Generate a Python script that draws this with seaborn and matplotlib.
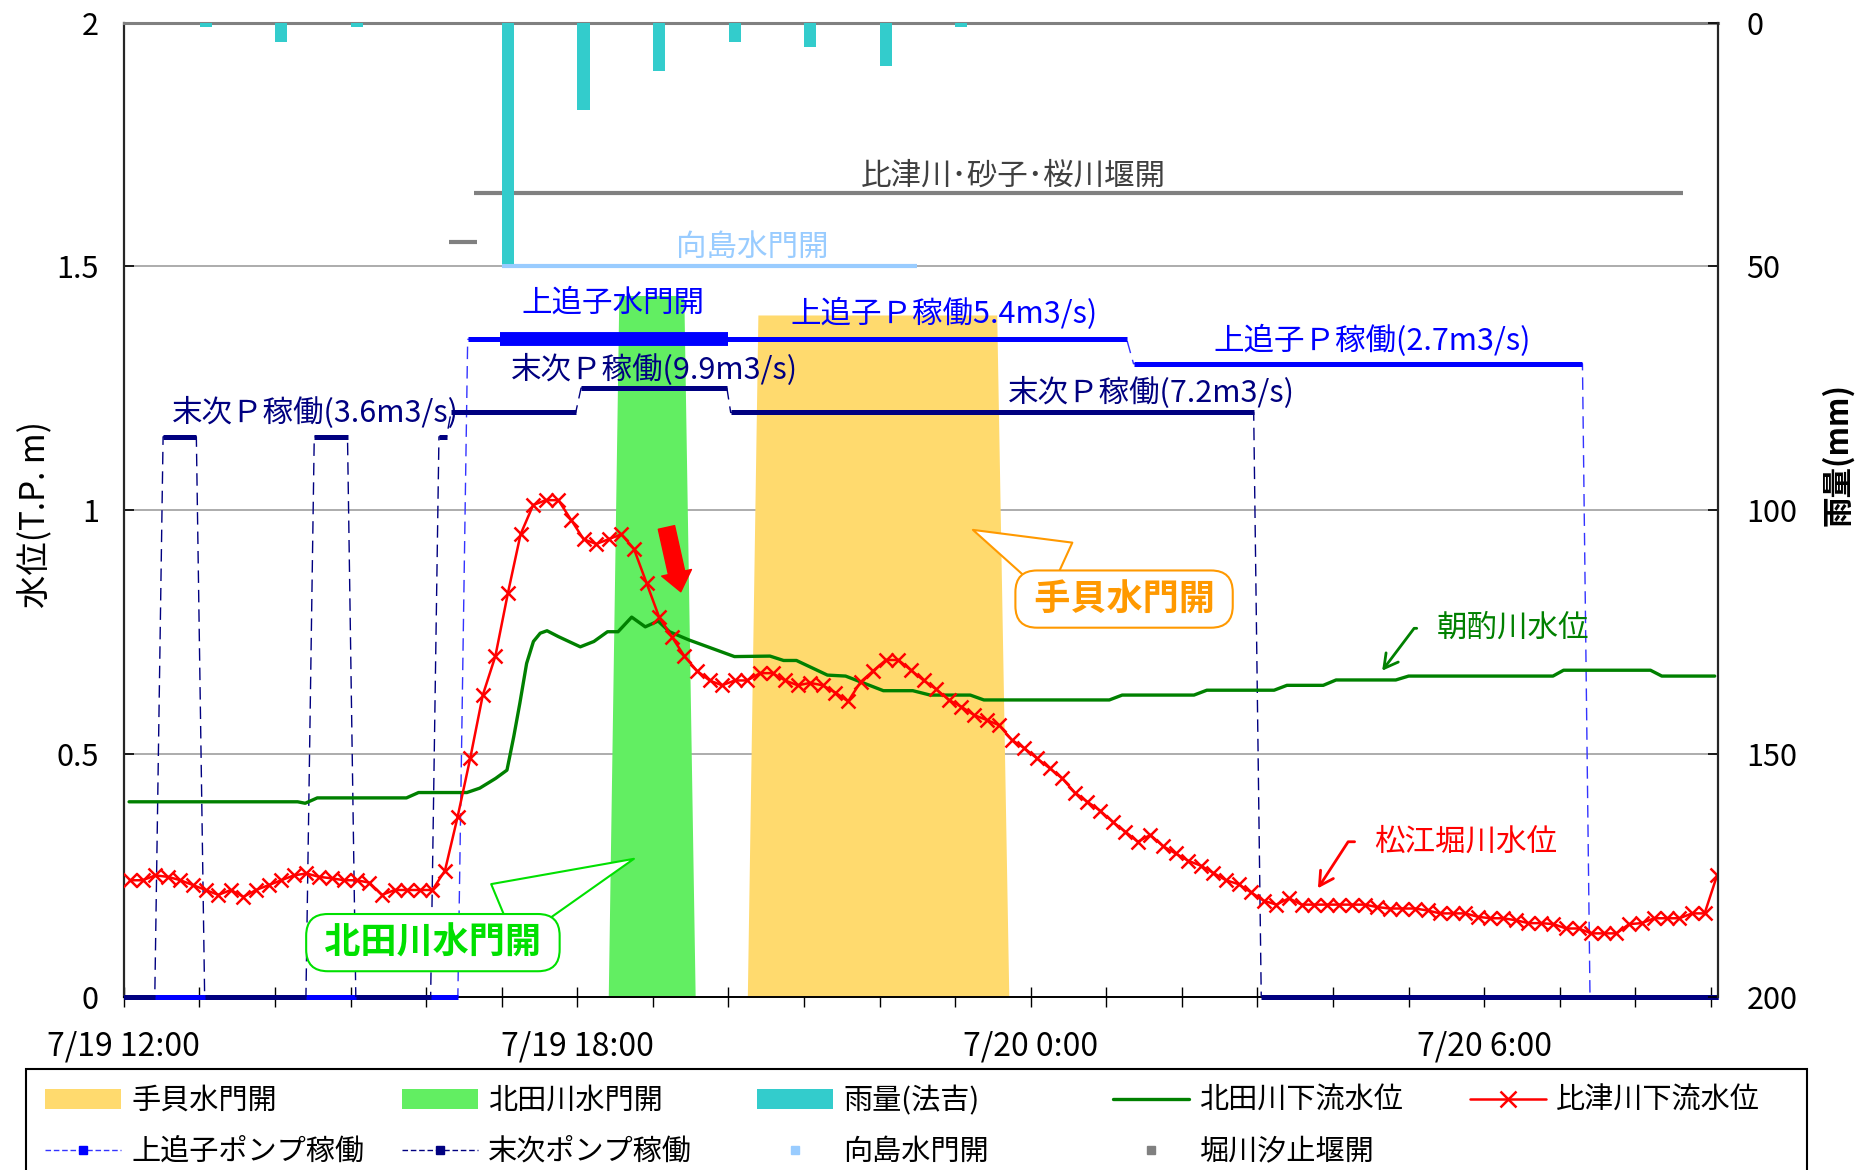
import numpy as np
import matplotlib
matplotlib.use("Agg")
import matplotlib.pyplot as plt
import seaborn as sns
from matplotlib.lines import Line2D
from matplotlib.patches import Patch, Rectangle
from matplotlib.collections import LineCollection

sns.set_theme(style="white")
plt.rcParams["font.family"] = ["Noto Sans CJK JP", "DejaVu Sans"]
plt.rcParams["axes.unicode_minus"] = False

# ---------------- data (time in hours after 7/19 12:00) ----------------
x_tick_hours = [0, 6, 12, 18]
x_tick_labels = ["7/19 12:00", "7/19 18:00", "7/20 0:00", "7/20 6:00"]
y_ticks_left = [0, 0.5, 1, 1.5, 2]
y_tick_labels_left = ["0", "0.5", "1", "1.5", "2"]
y_ticks_right = [0, 50, 100, 150, 200]

# hourly rainfall (法吉), mm
rain_t = [1.083, 2.083, 3.083, 5.083, 6.083, 7.083, 8.083, 9.083, 10.083, 11.083]
rain_mm = [1, 4, 1, 49.5, 18, 10, 4, 5, 9, 1]

# 比津川下流水位 (松江堀川水位), 10-minute data from 12:05
hizu_first_h = 1 / 12
hizu_step_h = 1 / 6
hizu_level = [
    0.24, 0.24, 0.25, 0.247, 0.24, 0.23, 0.22, 0.21, 0.22, 0.206,
    0.22, 0.23, 0.24, 0.25, 0.254, 0.247, 0.244, 0.24, 0.24, 0.235,
    0.21, 0.22, 0.22, 0.22, 0.22, 0.26, 0.37, 0.49, 0.62, 0.70,
    0.83, 0.95, 1.01, 1.02, 1.02, 0.98, 0.94, 0.93, 0.94, 0.95,
    0.92, 0.85, 0.78, 0.74, 0.70, 0.67, 0.65, 0.64, 0.65, 0.65,
    0.665, 0.665, 0.65, 0.64, 0.645, 0.64, 0.625, 0.607, 0.647, 0.67,
    0.692, 0.692, 0.671, 0.65, 0.632, 0.61, 0.596, 0.579, 0.569, 0.558,
    0.528, 0.511, 0.49, 0.47, 0.449, 0.42, 0.401, 0.383, 0.36, 0.34,
    0.319, 0.333, 0.31, 0.295, 0.28, 0.27, 0.255, 0.24, 0.232, 0.215,
    0.198, 0.19, 0.203, 0.19, 0.19, 0.19, 0.19, 0.19, 0.19, 0.185,
    0.182, 0.182, 0.182, 0.178, 0.172, 0.172, 0.172, 0.165, 0.162, 0.162,
    0.158, 0.152, 0.152, 0.15, 0.141, 0.141, 0.131, 0.131, 0.131, 0.15,
    0.152, 0.162, 0.162, 0.162, 0.172, 0.172, 0.251,
]

# 北田川下流水位 (朝酌川水位)
kitada_t = [0.07, 2.3, 2.4, 2.56, 3.74, 3.9, 4.54, 4.71, 4.92, 5.07, 5.16, 5.24,
            5.33, 5.42, 5.51, 5.6, 5.75, 6.04, 6.22, 6.4, 6.54, 6.72, 6.9, 7.07,
            7.22, 7.48, 8.08, 8.55, 8.73, 8.9, 9.31, 9.55, 10.05, 10.44, 10.67,
            11.2, 11.38, 13.04, 13.21, 14.16, 14.33, 15.22, 15.39, 15.87, 16.04,
            16.83, 17.0, 18.91, 19.05, 20.2, 20.35, 21.05]
kitada_level = [0.401, 0.401, 0.398, 0.409, 0.409, 0.42, 0.42, 0.429, 0.449, 0.466,
                0.535, 0.603, 0.685, 0.73, 0.747, 0.752, 0.74, 0.719, 0.73, 0.75,
                0.75, 0.78, 0.76, 0.772, 0.75, 0.733, 0.699, 0.70, 0.691, 0.691,
                0.661, 0.659, 0.629, 0.629, 0.62, 0.62, 0.61, 0.61, 0.62, 0.62,
                0.63, 0.63, 0.64, 0.64, 0.651, 0.651, 0.659, 0.659, 0.671, 0.671,
                0.659, 0.659]

# gate-open bands
tegai_t = [8.25, 8.39, 11.55, 11.71]
tegai_v = [0, 1.40, 1.40, 0]
kitagate_t = [6.41, 6.55, 7.41, 7.56]
kitagate_v = [0, 1.44, 1.44, 0]

# pump operation series
kamioiko_t = [0, 4.42, 4.55, 13.27, 13.36, 19.30, 19.40, 21.1]
kamioiko_v = [0, 0, 1.35, 1.35, 1.30, 1.30, 0, 0]
suetsugu_t = [0, 0.41, 0.52, 0.96, 1.07, 2.41, 2.52, 2.96, 3.07, 4.06, 4.17,
              4.27, 4.33, 5.98, 6.05, 7.98, 8.03, 14.95, 15.05, 21.1]
suetsugu_v = [0, 0, 1.15, 1.15, 0, 0, 1.15, 1.15, 0, 0, 1.15,
              1.15, 1.2, 1.2, 1.25, 1.25, 1.2, 1.2, 0, 0]
kamioiko_gate_start = [4.98]
kamioiko_gate_end = [8.0]
kamioiko_gate_level = [1.35]

# 堀川汐止堰開 / 向島水門開
horikawa_start = [4.30, 4.63]
horikawa_end = [4.68, 20.63]
horikawa_level = [1.55, 1.65]
mukoujima_start = [5.0]
mukoujima_end = [10.5]
mukoujima_level = [1.5]

# ---------------- colours ----------------
C_YELLOW = "#FFDA6E"
C_GREENBAND = "#62EE62"
C_RAIN = "#33CCCC"
C_KITA = "#008000"
C_HIZU = "#FF0000"
C_KAMI = "#0000FF"
C_KAMI_DASH = "#3333FF"
C_SUE = "#000080"
C_MUKO = "#99CCFF"
C_HORI = "#808080"
C_ORANGE = "#FF9900"
C_LIME = "#00E000"

# ---------------- figure ----------------
fig = plt.figure(figsize=(18.66, 11.7), dpi=100)
ax = fig.add_axes([0.06634, 0.14769, 0.85461, 0.83299])
ax.set_facecolor("white")

ax.fill_between(tegai_t, tegai_v, color=C_YELLOW, lw=0, zorder=1)
ax.fill_between(kitagate_t, kitagate_v, color=C_GREENBAND, lw=0, zorder=1)

ax.set_xlim(0, 21.1)
ax.set_ylim(0, 2)
ax.set_yticks(y_ticks_left)
ax.set_yticklabels(y_tick_labels_left)
ax.yaxis.grid(True, color="#A6A6A6", lw=1.3, zorder=0)
ax.xaxis.grid(False)
ax.set_axisbelow(True)

hour_ticks = np.arange(0, 22, 1)
ax.set_xticks(hour_ticks)
lab_map = dict(zip(x_tick_hours, x_tick_labels))
ax.set_xticklabels([lab_map.get(int(h), "") for h in hour_ticks])

# lines
ax.hlines(horikawa_level, horikawa_start, horikawa_end, color=C_HORI, lw=3, zorder=3)
ax.hlines(mukoujima_level, mukoujima_start, mukoujima_end, color=C_MUKO, lw=3, zorder=3)


def flat_segments(t, v):
    segs = []
    for i in range(len(t) - 1):
        if v[i] == v[i + 1]:
            segs.append([(t[i], v[i]), (t[i + 1], v[i + 1])])
    return segs


ax.plot(kamioiko_t, kamioiko_v, color=C_KAMI_DASH, lw=1.0, ls=(0, (9, 5)), zorder=4)
ax.add_collection(LineCollection(flat_segments(kamioiko_t, kamioiko_v), colors=C_KAMI,
                                 linewidths=3.6, zorder=4, clip_on=False, capstyle="butt"))
ax.hlines(kamioiko_gate_level, kamioiko_gate_start, kamioiko_gate_end, color=C_KAMI, lw=10, zorder=4)

ax.plot(suetsugu_t, suetsugu_v, color=C_SUE, lw=1.0, ls=(0, (9, 5)), zorder=4.5)
ax.add_collection(LineCollection(flat_segments(suetsugu_t, suetsugu_v), colors=C_SUE,
                                 linewidths=3.6, zorder=4.5, clip_on=False, capstyle="butt"))

hizu_t = hizu_first_h + hizu_step_h * np.arange(len(hizu_level))
sns.lineplot(x=kitada_t, y=kitada_level, ax=ax, color=C_KITA, lw=2.4, zorder=5)
sns.lineplot(x=hizu_t, y=hizu_level, ax=ax, color=C_HIZU, lw=1.8, marker="x",
             markersize=10, markeredgewidth=1.8, markeredgecolor=C_HIZU, zorder=6)
ax.set_xlim(0, 21.1)
ax.set_ylim(0, 2)

# rain on secondary axis
ax2 = ax.twinx()
ax2.bar(rain_t, rain_mm, width=0.16, color=C_RAIN, lw=0, zorder=2)
ax2.set_ylim(200, 0)
ax2.set_yticks(y_ticks_right)
ax2.set_yticklabels([str(v) for v in y_ticks_right])

# spines & ticks
for s in ["top", "bottom", "left", "right"]:
    ax2.spines[s].set_visible(False)
ax2.spines["right"].set_visible(True)
ax2.spines["right"].set_color("#262626")
ax2.spines["right"].set_linewidth(1.6)
ax.spines["right"].set_visible(False)
ax.spines["top"].set_color("#808080")
ax.spines["top"].set_linewidth(2.2)
ax.spines["left"].set_color("#262626")
ax.spines["left"].set_linewidth(1.6)
ax.spines["bottom"].set_color("#000000")
ax.spines["bottom"].set_linewidth(1.4)

ax.tick_params(axis="x", bottom=True, direction="inout", length=14, width=1.0,
               color="black", labelcolor="black", labelsize=23, pad=17)
ax.tick_params(axis="y", left=True, direction="in", length=7, width=1.2,
               color="black", labelcolor="black", labelsize=22, pad=18)
ax2.tick_params(axis="y", right=True, direction="in", length=7, width=1.2,
                color="black", labelcolor="black", labelsize=22, pad=20)

ax.set_ylabel("水位(T.P. m)", fontsize=24, color="black")
ax.yaxis.set_label_coords(-0.044, 0.495)
ax2.set_ylabel("雨量(mm)", fontsize=22, color="black", fontweight="bold")
ax2.yaxis.set_label_coords(1.0645, 0.557)

# ---------------- text labels ----------------
tkw = dict(ha="center", va="center", fontsize=22, zorder=9)
ax.text(11.77, 1.685, "比津川･砂子･桜川堰開", color="#404040", **tkw)
ax.text(8.31, 1.539, "向島水門開", color=C_MUKO, **tkw)
ax.text(6.47, 1.425, "上追子水門開", color=C_KAMI, **tkw)
ax.text(10.85, 1.402, "上追子Ｐ稼働5.4m3/s)", color=C_KAMI, **tkw)
ax.text(16.52, 1.347, "上追子Ｐ稼働(2.7m3/s)", color=C_KAMI, **tkw)
ax.text(7.02, 1.287, "末次Ｐ稼働(9.9m3/s)", color=C_SUE, **tkw)
ax.text(13.60, 1.239, "末次Ｐ稼働(7.2m3/s)", color=C_SUE, **tkw)
ax.text(2.53, 1.198, "末次Ｐ稼働(3.6m3/s)", color=C_SUE, **tkw)

# callouts
ax.annotate(" 北田川水門開 ", xy=(6.75, 0.284), xytext=(4.09, 0.112),
            ha="center", va="center", fontsize=26, fontweight="bold", color=C_LIME,
            bbox=dict(boxstyle="round,pad=0.28,rounding_size=0.6", fc="white", ec=C_LIME, lw=1.5),
            arrowprops=dict(arrowstyle="wedge,tail_width=1.75,shrink_factor=0.5",
                            fc="white", ec=C_LIME, lw=1.5, shrinkA=0, shrinkB=0),
            zorder=8)
ax.annotate(" 手貝水門開 ", xy=(11.235, 0.959), xytext=(13.235, 0.817),
            ha="center", va="center", fontsize=26, fontweight="bold", color=C_ORANGE,
            bbox=dict(boxstyle="round,pad=0.28,rounding_size=0.6", fc="white", ec=C_ORANGE, lw=1.5),
            arrowprops=dict(arrowstyle="wedge,tail_width=1.65,shrink_factor=0.5",
                            fc="white", ec=C_ORANGE, lw=1.5, shrinkA=0, shrinkB=0),
            zorder=8)

ax.annotate("朝酌川水位", xy=(16.65, 0.670), xytext=(18.38, 0.757),
            ha="center", va="center", fontsize=22, color=C_KITA,
            arrowprops=dict(arrowstyle="->,head_length=0.45,head_width=0.25",
                            connectionstyle="angle,angleA=0,angleB=53,rad=0",
                            relpos=(0, 0.5), shrinkA=12, shrinkB=0, color=C_KITA, lw=2),
            zorder=8)
ax.annotate("松江堀川水位", xy=(15.80, 0.2235), xytext=(17.76, 0.319),
            ha="center", va="center", fontsize=22, color=C_HIZU,
            arrowprops=dict(arrowstyle="->,head_length=0.45,head_width=0.25",
                            connectionstyle="angle,angleA=0,angleB=57,rad=0",
                            relpos=(0, 0.5), shrinkA=12, shrinkB=0, color=C_HIZU, lw=2),
            zorder=8)

ax.annotate("", xy=(7.37, 0.832), xytext=(7.18, 0.964),
            arrowprops=dict(arrowstyle="simple,head_length=0.7,head_width=1.1,tail_width=0.6",
                            fc=C_HIZU, ec=C_HIZU, mutation_scale=20, shrinkA=0, shrinkB=0),
            zorder=7)

# ---------------- legend ----------------
h_tegai = Patch(facecolor=C_YELLOW, edgecolor="none")
h_kitagate = Patch(facecolor=C_GREENBAND, edgecolor="none")
h_rain = Patch(facecolor=C_RAIN, edgecolor="none")
h_kita = Line2D([], [], color=C_KITA, lw=2.4)
h_hizu = Line2D([], [], color=C_HIZU, lw=1.8, marker="x", ms=12, mew=1.8)
h_kami = Line2D([], [], color=C_KAMI_DASH, lw=1.0, ls=(0, (4, 2)), marker="s", ms=6, mfc=C_KAMI, mec=C_KAMI)
h_sue = Line2D([], [], color=C_SUE, lw=1.0, ls=(0, (4, 2)), marker="s", ms=6, mfc=C_SUE, mec=C_SUE)
h_muko = Line2D([], [], ls="none", marker="s", ms=6, color=C_MUKO)
h_hori = Line2D([], [], ls="none", marker="s", ms=6, color=C_HORI)

columns = [
    ([h_tegai, h_kami], ["手貝水門開", "上追子ポンプ稼働"], 45),
    ([h_kitagate, h_sue], ["北田川水門開", "末次ポンプ稼働"], 402),
    ([h_rain, h_muko], ["雨量(法吉)", "向島水門開"], 757),
    ([h_kita, h_hori], ["北田川下流水位", "堀川汐止堰開"], 1113),
    ([h_hizu], ["比津川下流水位"], 1470),
]
for handles, labels, xpx in columns:
    leg = fig.legend(handles=handles, labels=labels, loc="upper left",
                     bbox_to_anchor=(xpx / 1866, 1 - 1086 / 1170),
                     bbox_transform=fig.transFigure, frameon=False, fontsize=21,
                     handlelength=2.6, handletextpad=0.35, labelspacing=0.72,
                     borderpad=0, borderaxespad=0)
    for txt in leg.get_texts():
        txt.set_color("black")

fig.patches.append(Rectangle((26 / 1866, -0.05), (1807 - 26) / 1866, 0.05 + (1170 - 1069) / 1170,
                             transform=fig.transFigure, fill=False, ec="black", lw=1.5))

fig.savefig("out.png", dpi=100, facecolor="white")
